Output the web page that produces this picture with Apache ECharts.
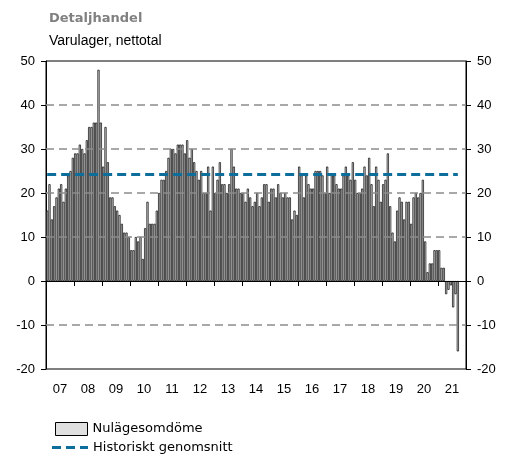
<!DOCTYPE html>
<html>
<head>
<meta charset="utf-8">
<script src="https://cdn.jsdelivr.net/npm/echarts@6/dist/echarts.min.js"></script>
<style>
  html, body { margin: 0; padding: 0; background: #fff; }
  #main { width: 506px; height: 457px; }
</style>
</head>
<body>
<div id="main"></div>
<script>
// Nulägesomdöme, månadsvärden per år
var y2007 = [16, 22, 14, 17, 19, 21, 22, 18, 21, 24, 25, 28];
var y2008 = [29, 29, 31, 30, 29, 32, 35, 35, 36, 36, 48, 36];
var y2009 = [26, 35, 27, 19, 19, 17, 16, 15, 13, 11, 11, 10];
var y2010 = [7, 7, 10, 9, 10, 5, 12, 18, 13, 13, 13, 16];
var y2011 = [20, 23, 23, 25, 28, 30, 30, 29, 31, 31, 31, 29];
var y2012 = [32, 28, 30, 27, 25, 23, 25, 20, 20, 26, 16, 26];
var y2013 = [20, 23, 27, 22, 22, 20, 22, 30, 26, 21, 21, 20];
var y2014 = [20, 18, 21, 19, 17, 18, 20, 17, 19, 22, 22, 18];
var y2015 = [21, 21, 19, 22, 20, 19, 20, 19, 19, 14, 16, 15];
var y2016 = [26, 24, 19, 24, 22, 21, 21, 25, 25, 25, 24, 20];
var y2017 = [26, 20, 24, 24, 22, 21, 21, 24, 26, 24, 23, 27];
var y2018 = [23, 20, 20, 21, 26, 24, 28, 22, 17, 26, 23, 18];
var y2019 = [22, 23, 29, 17, 11, 9, 16, 19, 18, 14, 18, 18];
var y2020 = [13, 19, 20, 19, 20, 23, 9, 2, 4, 4, 7, 7];
var y2021 = [7, 3, 3, -3, -2, -1, -6, -3, -16];

var years = [2007, 2008, 2009, 2010, 2011, 2012, 2013, 2014, 2015, 2016, 2017, 2018, 2019, 2020, 2021];
var yearLabels = ['07', '08', '09', '10', '11', '12', '13', '14', '15', '16', '17', '18', '19', '20', '21'];
var yTicks = [-20, -10, 0, 10, 20, 30, 40, 50];
var histAvg = 24.3;

var values = [].concat(y2007, y2008, y2009, y2010, y2011, y2012, y2013, y2014,
  y2015, y2016, y2017, y2018, y2019, y2020, y2021);

// en kategori per månad
var months = [];
years.forEach(function (y) {
  for (var m = 1; m <= 12; m++) {
    months.push(y + '-' + (m < 10 ? '0' + m : m));
  }
});
var lastMonth = months[values.length - 1];

// stödlinjer: streckade utom nollan
var gridLines = [];
yTicks.forEach(function (v) {
  if (v === yTicks[0] || v === yTicks[yTicks.length - 1]) return;
  gridLines.push({
    yAxis: v,
    lineStyle: v === 0
      ? { color: '#000', width: 1, type: 'solid' }
      : { color: '#8c8c8c', width: 1.5, type: [8, 5] }
  });
});

var yAxisBase = function (pos) {
  return {
    type: 'value',
    position: pos,
    min: yTicks[0],
    max: yTicks[yTicks.length - 1],
    interval: 10,
    axisLine: { show: true, lineStyle: { color: '#000', width: 1 } },
    axisTick: { show: true, length: 5, lineStyle: { color: '#000' } },
    axisLabel: { fontSize: 13, color: '#000', margin: 11, fontFamily: 'Liberation Sans' },
    splitLine: { show: false }
  };
};

var blue = '#0d6e9c';
var legendText = { fontSize: 13, color: '#000', fontFamily: 'DejaVu Sans' };

var myChart = echarts.init(document.getElementById('main'));

var option = {
  animation: false,
  title: {
    text: 'Detaljhandel',
    subtext: 'Varulager, nettotal',
    left: 44,
    top: 7,
    itemGap: 9,
    textStyle: { fontSize: 13, fontWeight: 'bold', color: '#808080', fontFamily: 'DejaVu Sans' },
    subtextStyle: { fontSize: 14, color: '#000', fontFamily: 'Liberation Sans' }
  },
  legend: [{
    left: 55,
    top: 422,
    padding: 0,
    itemWidth: 32,
    itemHeight: 13,
    itemStyle: { borderWidth: 1, borderColor: '#000' },
    textStyle: legendText,
    data: [{ name: 'Nulägesomdöme', icon: 'rect' }]
  }, {
    left: 52,
    top: 441,
    padding: 0,
    itemWidth: 36,
    itemHeight: 3,
    itemGap: 5,
    textStyle: legendText,
    data: [{
      name: 'Historiskt genomsnitt',
      icon: 'path://M0,0h9v3h-9z M14,0h9v3h-9z M28,0h8v3h-8z'
    }]
  }],
  grid: {
    left: 46, right: 40, top: 61, bottom: 88,
    show: true, borderColor: '#000', borderWidth: 1
  },
  xAxis: [{
    type: 'category',
    data: months,
    position: 'top',
    show: false
  }, {
    type: 'category',
    data: yearLabels,
    position: 'bottom',
    boundaryGap: true,
    axisLine: { show: true, lineStyle: { color: '#000' } },
    axisTick: { show: true, length: 5, lineStyle: { color: '#000' } },
    axisLabel: { fontSize: 13, color: '#000', margin: 14, fontFamily: 'Liberation Sans' }
  }],
  yAxis: [yAxisBase('left'), yAxisBase('right')],
  series: [{
    name: 'Nulägesomdöme',
    type: 'bar',
    xAxisIndex: 0,
    yAxisIndex: 0,
    data: values,
    barCategoryGap: '8%',
    itemStyle: { color: '#e0e0e0', borderColor: '#000', borderWidth: 0.7 },
    markLine: {
      silent: true,
      symbol: 'none',
      label: { show: false },
      data: gridLines
    }
  }, {
    name: 'Historiskt genomsnitt',
    type: 'line',
    xAxisIndex: 0,
    yAxisIndex: 0,
    data: [],
    symbol: 'none',
    color: blue,
    itemStyle: { color: blue },
    lineStyle: { color: blue, width: 3, type: [9, 5] },
    markLine: {
      silent: true,
      symbol: 'none',
      label: { show: false },
      lineStyle: { color: blue, width: 3, type: [9, 5] },
      data: [[
        { coord: [months[0], histAvg] },
        { coord: [lastMonth, histAvg] }
      ]]
    }
  }]
};

myChart.setOption(option);
</script>
</body>
</html>
